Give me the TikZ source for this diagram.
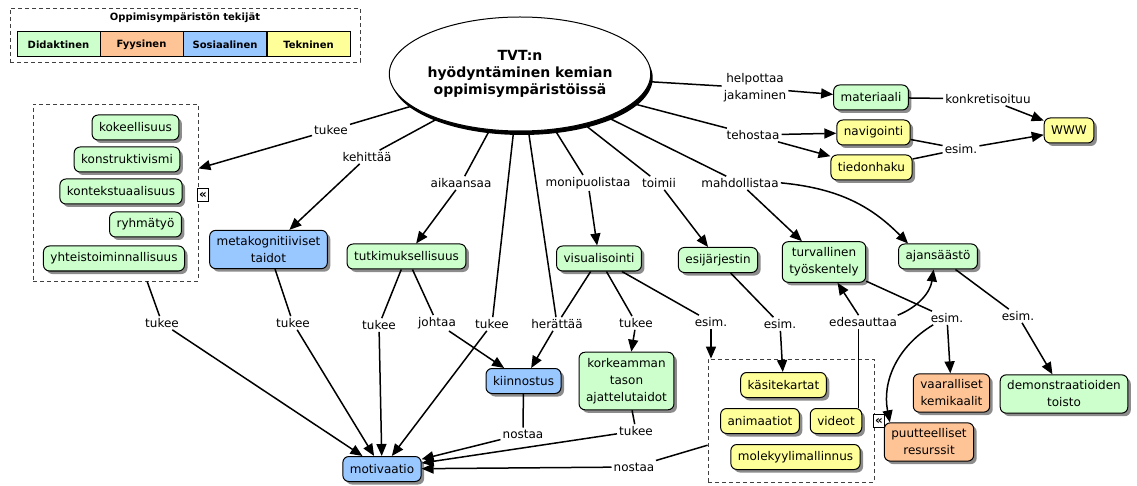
\documentclass[tikz,border=0pt]{standalone}
\usepackage{fontspec}
\setmainfont{DejaVu Sans}
\usepackage{tikz}
\usetikzlibrary{arrows.meta}
\usetikzlibrary{shapes.geometric}
\usetikzlibrary{shadows}
\definecolor{didgreen}{RGB}{204,255,204}
\definecolor{fysorange}{RGB}{255,196,150}
\definecolor{sosblue}{RGB}{153,199,255}
\definecolor{tekyellow}{RGB}{255,255,153}

\begin{document}
\begin{tikzpicture}[x=1pt, y=-1pt,
			font=\fontsize{12}{17}\selectfont,
			>={Triangle[length=12pt,width=10pt]},
			myconcept/.style={draw, rounded corners=6pt, line width=1pt, align=center, inner xsep=7pt, inner ysep=6pt, minimum height=25pt, drop shadow={shadow xshift=3pt, shadow yshift=-3pt, fill=black!45, opacity=1}},
			mylink/.style={inner sep=2pt, align=center},
			mygroup/.style={draw, line width=0.8pt, dash pattern=on 4pt off 3pt, black!75},
			mycell/.style={draw, line width=1pt, minimum width=83pt, minimum height=25pt, font=\fontsize{10}{12}\selectfont\bfseries},
			myicon/.style={draw, fill=white, line width=0.8pt, minimum width=11pt, minimum height=13pt, inner sep=0pt, font=\fontsize{12}{12}\selectfont\bfseries},
			myline/.style={line width=1.5pt}
		]
		\useasboundingbox (0,0) rectangle (1137,486);

		% legend
		\node[mygroup, minimum width=350pt, minimum height=54pt] (legend) at (185,35) {};
		\node[font=\fontsize{10}{12}\selectfont\bfseries] (legtitle) at (185,18) {Oppimisympäristön tekijät};
		\node[mycell, fill=didgreen] (legdid) at (58.5,44.5) {Didaktinen};
		\node[mycell, fill=fysorange] (legfys) at (141.5,44.5) {Fyysinen};
		\node[mycell, fill=sosblue] (legsos) at (225,44.5) {Sosiaalinen};
		\node[mycell, fill=tekyellow] (legtek) at (308.5,44.5) {Tekninen};

		% main concept
		\node[ellipse, draw, fill=white, line width=1pt, minimum width=236pt, minimum height=114pt, inner sep=0pt, align=center, font=\fontsize{14}{17}\selectfont\bfseries, drop shadow={shadow xshift=2pt, shadow yshift=-4pt, fill=black, opacity=1}] (tvt) at (520,74) {TVT:n\\hyödyntäminen kemian\\oppimisympäristöissä};

		% groups
		\node[mygroup, minimum width=165pt, minimum height=177pt] (grpL) at (115.5,192.5) {};
		\node[mygroup, minimum width=166pt, minimum height=123pt] (grpR) at (791,420.5) {};
		\node[myicon] (iconL) at (203,195) {«};
		\node[myicon] (iconR) at (879,421) {«};

		% concepts
		\node[myconcept, fill=didgreen] (materiaali) at (871,97.5) {materiaali};
		\node[myconcept, fill=tekyellow] (navigointi) at (873.5,132.5) {navigointi};
		\node[myconcept, fill=tekyellow] (tiedonhaku) at (871.5,167.5) {tiedonhaku};
		\node[myconcept, fill=tekyellow] (www) at (1069,130.5) {WWW};
		\node[myconcept, fill=didgreen] (kokeell) at (135.5,127.5) {kokeellisuus};
		\node[myconcept, fill=didgreen] (konstr) at (127,159.5) {konstruktivismi};
		\node[myconcept, fill=didgreen] (kontekst) at (121,191.5) {kontekstuaalisuus};
		\node[myconcept, fill=didgreen] (ryhma) at (145.5,224.5) {ryhmätyö};
		\node[myconcept, fill=didgreen] (yhteis) at (114,258.5) {yhteistoiminnallisuus};
		\node[myconcept, fill=sosblue] (metakog) at (268.5,249.5) {metakognitiiviset\\taidot};
		\node[myconcept, fill=didgreen] (tutkim) at (406.5,256.5) {tutkimuksellisuus};
		\node[myconcept, fill=didgreen] (visual) at (599,258.5) {visualisointi};
		\node[myconcept, fill=didgreen] (esijarj) at (718,260) {esijärjestin};
		\node[myconcept, fill=didgreen] (turval) at (824,262) {turvallinen\\työskentely};
		\node[myconcept, fill=didgreen] (ajans) at (938,256.5) {ajansäästö};
		\node[myconcept, fill=sosblue] (kiinn) at (523.5,381) {kiinnostus};
		\node[myconcept, fill=didgreen] (korkea) at (626.5,381) {korkeamman\\tason\\ajattelutaidot};
		\node[myconcept, fill=tekyellow] (kasite) at (783.5,385) {käsitekartat};
		\node[myconcept, fill=tekyellow] (animaat) at (760,421) {animaatiot};
		\node[myconcept, fill=tekyellow] (videot) at (836,421) {videot};
		\node[myconcept, fill=tekyellow] (molek) at (795.5,457) {molekyylimallinnus};
		\node[myconcept, fill=fysorange] (vaaral) at (951.5,393) {vaaralliset\\kemikaalit};
		\node[myconcept, fill=fysorange] (puutt) at (929,442) {puutteelliset\\resurssit};
		\node[myconcept, fill=didgreen] (demo) at (1064,394) {demonstraatioiden\\toisto};
		\node[myconcept, fill=sosblue] (motiv) at (382,469) {motivaatio};

		% linking phrases
		\node[mylink] (tukeeA) at (331,130) {tukee};
		\node[mylink] (kehittaa) at (367,157) {kehittää};
		\node[mylink] (aikaansaa) at (461,183) {aikaansaa};
		\node[mylink] (monip) at (588,183) {monipuolistaa};
		\node[mylink] (toimii) at (659,183) {toimii};
		\node[mylink] (mahd) at (740,183) {mahdollistaa};
		\node[mylink] (helpottaa) at (755,88) {helpottaa\\jakaminen};
		\node[mylink] (tehostaa) at (753,135) {tehostaa};
		\node[mylink] (konkr) at (988,99) {konkretisoituu};
		\node[mylink] (esimW) at (961,149) {esim.};
		\node[mylink] (tukeeB) at (162,323) {tukee};
		\node[mylink] (tukeeC) at (293,323) {tukee};
		\node[mylink] (tukeeD) at (379,325) {tukee};
		\node[mylink] (johtaa) at (437,323) {johtaa};
		\node[mylink] (tukeeE) at (492,324) {tukee};
		\node[mylink] (herattaa) at (557,324) {herättää};
		\node[mylink] (tukeeF) at (636,323) {tukee};
		\node[mylink] (esimA) at (711,322) {esim.};
		\node[mylink] (esimB) at (780,324) {esim.};
		\node[mylink] (edes) at (863,322) {edesauttaa};
		\node[mylink] (esimC) at (947,318) {esim.};
		\node[mylink] (esimD) at (1018,316) {esim.};
		\node[mylink] (nostaaA) at (523,434) {nostaa};
		\node[mylink] (tukeeG) at (636,431) {tukee};
		\node[mylink] (nostaaB) at (634,467) {nostaa};

		% connectors from the main concept
		\draw[myline] (tvt) -- (tukeeA);
		\draw[myline, ->] (tukeeA) -- (grpL);
		\draw[myline] (tvt) -- (kehittaa);
		\draw[myline, ->] (kehittaa) -- (metakog);
		\draw[myline] (tvt) -- (aikaansaa);
		\draw[myline, ->] (aikaansaa) -- (tutkim);
		\draw[myline] (tvt) -- (tukeeE);
		\draw[myline, ->] (tukeeE) -- (motiv);
		\draw[myline] (tvt) -- (herattaa);
		\draw[myline, ->] (herattaa) -- (kiinn);
		\draw[myline] (tvt) -- (monip);
		\draw[myline, ->] (monip) -- (visual);
		\draw[myline] (tvt) -- (toimii);
		\draw[myline, ->] (toimii) -- (esijarj);
		\draw[myline] (tvt) -- (mahd);
		\draw[myline, ->] (mahd) -- (turval);
		\draw[myline, ->] (mahd) to[bend left=20] ([xshift=10pt]ajans.north west);
		\draw[myline] (tvt) -- (helpottaa);
		\draw[myline, ->] (helpottaa) -- (materiaali);
		\draw[myline] (tvt) -- (tehostaa);
		\draw[myline, ->] (tehostaa) -- (navigointi);
		\draw[myline, ->] (tehostaa) -- (tiedonhaku);

		% right top
		\draw[myline] (materiaali) -- (konkr);
		\draw[myline, ->] (konkr) -- (www);
		\draw[myline] (navigointi) -- (esimW);
		\draw[myline] (tiedonhaku) -- (esimW);
		\draw[myline, ->] (esimW) -- (www);

		% lower part
		\draw[myline] (grpL) -- (tukeeB);
		\draw[myline, ->] (tukeeB) -- (motiv);
		\draw[myline] (metakog) -- (tukeeC);
		\draw[myline, ->] (tukeeC) -- (motiv);
		\draw[myline] (tutkim) -- (tukeeD);
		\draw[myline, ->] (tukeeD) -- (motiv);
		\draw[myline] (tutkim) -- (johtaa);
		\draw[myline, ->] (johtaa) -- (kiinn);
		\draw[myline] (visual) -- (herattaa);
		\draw[myline] (visual) -- (tukeeF);
		\draw[myline, ->] (tukeeF) -- (korkea);
		\draw[myline] (visual) -- (esimA);
		\draw[myline, ->] (esimA) -- (esimA |- grpR.north);
		\draw[myline] (esijarj) -- (esimB);
		\draw[myline, ->] (esimB) -- (kasite);
		\draw[myline] ([xshift=-4pt]videot.north east) -- ([xshift=-4pt]videot.north east |- edes.south);
		\draw[myline, ->] (edes) -- (turval);
		\draw[myline, ->] (edes) to[bend right=30] (ajans);
		\draw[myline] (turval) -- (esimC);
		\draw[myline, ->] (esimC) -- (vaaral);
		\draw[myline, ->] (esimC) to[bend right=35] ([xshift=6pt]puutt.north west);
		\draw[myline] (ajans) -- (esimD);
		\draw[myline, ->] (esimD) -- (demo);
		\draw[myline] (kiinn) -- (nostaaA);
		\draw[myline, ->] (nostaaA) -- (motiv);
		\draw[myline] (korkea) -- (tukeeG);
		\draw[myline, ->] (tukeeG) -- (motiv);
		\draw[myline] (grpR) -- (nostaaB);
		\draw[myline, ->] (nostaaB) -- (motiv);

	\end{tikzpicture}
\end{document}
